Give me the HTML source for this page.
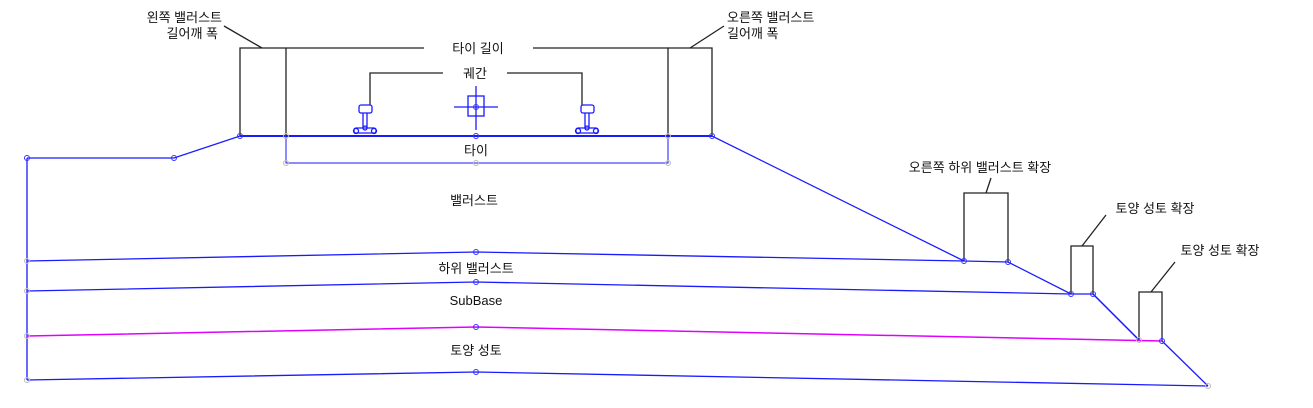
<!DOCTYPE html>
<html><head><meta charset="utf-8"><style>
html,body{margin:0;padding:0;background:#fff;width:1313px;height:408px;overflow:hidden}
svg{display:block}
text{font-family:"Liberation Sans","Noto Sans CJK KR",sans-serif;font-size:13px;fill:#111}
</style></head><body>
<svg width="1313" height="408" viewBox="0 0 1313 408" xmlns="http://www.w3.org/2000/svg">
<g stroke="#222" stroke-width="1.3" fill="none">
<!-- tie length -->
<polyline points="240,136 240,48 286,48"/>
<line x1="286" y1="48" x2="286" y2="136"/>
<line x1="286" y1="48" x2="424" y2="48"/>
<line x1="533" y1="48" x2="668" y2="48"/>
<polyline points="668,136 668,48 712,48 712,136"/>
<line x1="262" y1="48" x2="224" y2="26"/>
<line x1="690" y1="48" x2="724" y2="26"/>
<!-- gauge -->
<polyline points="370,105 370,73 443,73"/>
<polyline points="507,73 582,73 582,105"/>
<!-- right dims -->
<polyline points="964,261 964,193 1008,193 1008,262"/>
<line x1="986" y1="193" x2="991" y2="178"/>
<polyline points="1071,294 1071,246 1093,246 1093,294"/>
<line x1="1082" y1="246" x2="1106" y2="215"/>
<polyline points="1139,340 1139,292 1162,292 1162,341"/>
<line x1="1151" y1="292" x2="1175" y2="262"/>
</g>
<g stroke="#1a1aff" fill="none" stroke-width="1.3">
<line x1="27" y1="158" x2="27" y2="380"/>
<polyline points="27,158 174,158 240,136 712,136 964,261 1008,262 1071,294 1093,294 1139,340" />
<polyline points="1162,341 1208,386"/>
<line x1="1093" y1="294" x2="1139" y2="340"/>
<line x1="240" y1="136" x2="712" y2="136" stroke-width="2"/>
<polyline points="27,261 476,252 964,261"/>
<polyline points="27,291 476,282 1071,294"/>
<polyline points="27,380 476,372 1208,386"/>
<polyline points="286,136 286,163 668,163 668,136" stroke-width="1"/>
<!-- center marker -->
<rect x="468" y="96" width="16" height="20"/>
<line x1="476" y1="86" x2="476" y2="130"/>
<line x1="454" y1="107" x2="498" y2="107"/>
<!-- rails -->
<g id="r">
<rect x="359" y="105" width="13" height="8" rx="2"/>
<line x1="363" y1="113" x2="363" y2="128"/><line x1="367" y1="113" x2="367" y2="128"/>
<rect x="354" y="128" width="22" height="5" rx="2"/>
<circle cx="356" cy="131" r="2.5"/><circle cx="374" cy="131" r="2.5"/><circle cx="365" cy="128" r="2"/>
</g>
<use href="#r" x="222"/>
</g>
<polyline points="27,336 476,327 1162,341" stroke="#e000ff" stroke-width="1.5" fill="none"/>
<g fill="none" stroke="#3333ff" stroke-width="1">
<circle cx="27" cy="158" r="2.5"/><circle cx="174" cy="158" r="2.5"/><circle cx="240" cy="136" r="2.5"/>
<circle cx="476" cy="136" r="2.5"/><circle cx="712" cy="136" r="2.5"/><circle cx="476" cy="107" r="2.5"/>
<circle cx="964" cy="261" r="2.5"/><circle cx="1008" cy="262" r="2.5"/><circle cx="1071" cy="294" r="2.5"/><circle cx="1093" cy="294" r="2.5"/><circle cx="1162" cy="341" r="2.5"/>
<circle cx="476" cy="252" r="2.5"/><circle cx="476" cy="282" r="2.5"/><circle cx="476" cy="327" r="2.5"/><circle cx="476" cy="372" r="2.5"/>
</g>
<g fill="none" stroke="#bbb" stroke-width="1">
<circle cx="286" cy="136" r="2.5"/><circle cx="668" cy="136" r="2.5"/><circle cx="286" cy="163" r="2.5"/><circle cx="668" cy="163" r="2.5"/><circle cx="476" cy="163" r="2.5"/>
<circle cx="27" cy="261" r="2.5"/><circle cx="27" cy="291" r="2.5"/><circle cx="27" cy="336" r="2.5"/><circle cx="27" cy="380" r="2.5"/>
<circle cx="1139" cy="340" r="2.5"/><circle cx="1208" cy="386" r="2.5"/>
</g>
<text x="222" y="22" text-anchor="end">왼쪽 밸러스트</text>
<text x="218" y="38" text-anchor="end">길어깨 폭</text>
<text x="727" y="22">오른쪽 밸러스트</text>
<text x="727" y="38">길어깨 폭</text>
<text x="478" y="53" text-anchor="middle">타이 길이</text>
<text x="475" y="78" text-anchor="middle">궤간</text>
<text x="476" y="155" text-anchor="middle">타이</text>
<text x="474" y="205" text-anchor="middle">밸러스트</text>
<text x="476" y="273" text-anchor="middle">하위 밸러스트</text>
<text x="476" y="305" text-anchor="middle">SubBase</text>
<text x="476" y="355" text-anchor="middle">토양 성토</text>
<text x="980" y="172" text-anchor="middle">오른쪽 하위 밸러스트 확장</text>
<text x="1155" y="213" text-anchor="middle">토양 성토 확장</text>
<text x="1220" y="255" text-anchor="middle">토양 성토 확장</text>
</svg>
</body></html>
